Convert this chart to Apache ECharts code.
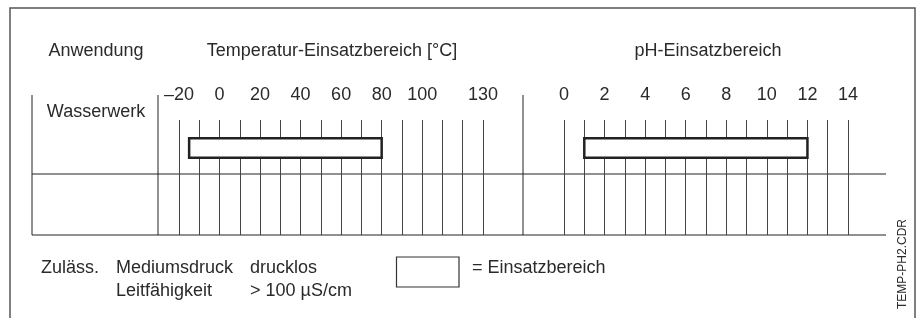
<!DOCTYPE html>
<html><head><meta charset="utf-8">
<script src="https://cdn.jsdelivr.net/npm/echarts@6/dist/echarts.min.js"></script>
<style>html,body{margin:0;padding:0;background:#fff}#c{width:922px;height:318px}</style>
</head><body><div id="c"></div>
<script>
// ---- data ----
const tempTickLabels = [-20, 0, 20, 40, 60, 80, 100, 130];
const tempMin = -20, tempMax = 130, tempStep = 10;
const phTickLabels = [0, 2, 4, 6, 8, 10, 12, 14];
const phMin = 0, phMax = 14, phStep = 1;
const applications = ['Wasserwerk'];
const tempRanges = [[-15, 80]];
const phRanges = [[1, 12]];
const headers = ['Anwendung', 'Temperatur-Einsatzbereich [°C]', 'pH-Einsatzbereich'];

// ---- styles ----
const FONT = "'Liberation Sans', Arial, Helvetica, sans-serif";
const TXT = '#2a2a2a';
const GRIDC = '#444';

function fmt(list) {
  return function (v) {
    return list.indexOf(v) >= 0 ? String(v).replace('-', '\u2013') : '';
  };
}
function barRender(params, api) {
  const x0 = api.coord([api.value(0), 0])[0];
  const x1 = api.coord([api.value(1), 0])[0];
  const cs = params.coordSys;
  return {
    type: 'rect',
    shape: { x: x0, y: cs.y + 18.2, width: x1 - x0, height: 19.6 },
    style: { fill: '#fff', stroke: '#222', lineWidth: 2.5 }
  };
}
function axisX(idx, min, max, step, labels) {
  return {
    type: 'value', gridIndex: idx, position: 'top', min: min, max: max, interval: step,
    axisLine: { show: false }, axisTick: { show: false },
    splitLine: { show: true, showMinLine: true, showMaxLine: true, lineStyle: { color: GRIDC, width: 1 } },
    axisLabel: {
      show: true, margin: 16, formatter: fmt(labels), color: TXT, fontSize: 18, fontFamily: FONT,
      showMinLabel: true, showMaxLabel: true, hideOverlap: false
    }
  };
}
function axisY(idx) {
  return { type: 'value', gridIndex: idx, min: 0, max: 1, show: false, splitLine: { show: false } };
}
function txt(x, y, s, align, extra) {
  return Object.assign({
    type: 'text', x: x, y: y, silent: true,
    style: { text: s, fill: TXT, fontSize: 18, fontFamily: FONT, align: align || 'center', verticalAlign: 'middle' }
  }, extra || {});
}
function ln(x1, y1, x2, y2, c, w) {
  return { type: 'line', silent: true, shape: { x1: x1, y1: y1, x2: x2, y2: y2 }, style: { stroke: c || '#222', lineWidth: w || 1 } };
}

const chart = echarts.init(document.getElementById('c'), null, { renderer: 'canvas' });
chart.setOption({
  animation: false,
  backgroundColor: '#fff',
  grid: [
    { left: 179, width: 304, top: 120, height: 115 },
    { left: 564, width: 284, top: 120, height: 115 }
  ],
  xAxis: [
    axisX(0, tempMin, tempMax, tempStep, tempTickLabels),
    axisX(1, phMin, phMax, phStep, phTickLabels)
  ],
  yAxis: [axisY(0), axisY(1)],
  series: [
    { type: 'custom', xAxisIndex: 0, yAxisIndex: 0, data: tempRanges.map(r => [r[0], r[1], 0]),
      encode: { x: [0, 1], y: 2 }, renderItem: barRender, z: 5 },
    { type: 'custom', xAxisIndex: 1, yAxisIndex: 1, data: phRanges.map(r => [r[0], r[1], 0]),
      encode: { x: [0, 1], y: 2 }, renderItem: barRender, z: 5 }
  ],
  graphic: [
    { type: 'rect', silent: true, shape: { x: 10, y: 8, width: 905, height: 330 }, style: { fill: 'none', stroke: '#555', lineWidth: 1.5 } },
    ln(32, 95, 32, 235), ln(158, 95, 158, 235), ln(523, 95, 523, 235),
    ln(32, 174, 886, 174), ln(32, 235, 886, 235),
    txt(96, 51, headers[0]), txt(332, 51, headers[1]), txt(708, 51, headers[2]),
    txt(96, 112, applications[0]),
    txt(41, 268.5, 'Zuläss.', 'left'),
    txt(116, 268.5, 'Mediumsdruck', 'left'),
    txt(250, 268.5, 'drucklos', 'left'),
    txt(116, 291.5, 'Leitfähigkeit', 'left'),
    txt(250, 291.5, '> 100 µS/cm', 'left'),
    { type: 'rect', silent: true, shape: { x: 396.5, y: 257, width: 62.5, height: 30 }, style: { fill: '#fff', stroke: '#333', lineWidth: 1.2 } },
    txt(472, 268.5, '= Einsatzbereich', 'left'),
    txt(903, 264, 'TEMP-PH2.CDR', 'center', { rotation: Math.PI / 2, style: { text: 'TEMP-PH2.CDR', fill: TXT, fontSize: 12, fontFamily: FONT, align: 'center', verticalAlign: 'middle' } })
  ]
});
</script>
</body></html>
